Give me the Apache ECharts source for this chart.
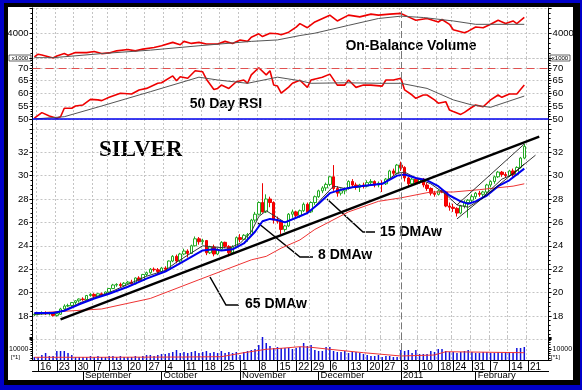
<!DOCTYPE html>
<html><head><meta charset="utf-8">
<script src="https://cdn.jsdelivr.net/npm/echarts/dist/echarts.min.js"></script>
<style>
html,body{margin:0;padding:0;background:#fff;}
#blue{position:absolute;left:0;top:0;width:582px;height:390px;background:#0000c8;}
#black{position:absolute;left:4px;top:3px;width:576px;height:382px;background:#000;}
#white{position:absolute;left:8px;top:7px;width:565px;height:373px;background:#fff;}
#chart{position:absolute;left:0;top:0;width:582px;height:390px;}
</style></head><body>
<div id="blue"></div><div id="black"></div><div id="white"></div>
<div id="chart"></div>
<script>
// ---------- categories (trading days) ----------
const monthDays = [
  ['2010-08',[13,16,17,18,19,20,23,24,25,26,27,30,31]],
  ['2010-09',[1,2,3,7,8,9,10,13,14,15,16,17,20,21,22,23,24,27,28,29,30]],
  ['2010-10',[1,4,5,6,7,8,11,12,13,14,15,18,19,20,21,22,25,26,27,28,29]],
  ['2010-11',[1,2,3,4,5,8,9,10,11,12,15,16,17,18,19,22,23,24,26,29,30]],
  ['2010-12',[1,2,3,6,7,8,9,10,13,14,15,16,17,20,21,22,23,27,28,29,30,31]],
  ['2011-01',[3,4,5,6,7,10,11,12,13,14,18,19,20,21,24,25,26,27,28,31]],
  ['2011-02',[1,2,3,4,7,8,9,10,11,14,15,16,17,18,21,22,23,24,25,28]]
];
const tradingDays = [];
monthDays.forEach(([ym, ds]) => ds.forEach(d => tradingDays.push(ym + '-' + String(d).padStart(2,'0'))));

const weekLabels = ['2010-08-16','2010-08-23','2010-08-30','2010-09-07','2010-09-13','2010-09-20','2010-09-27',
  '2010-10-04','2010-10-11','2010-10-18','2010-10-25','2010-11-01','2010-11-08','2010-11-15','2010-11-22',
  '2010-11-29','2010-12-06','2010-12-13','2010-12-20','2010-12-27','2011-01-03','2011-01-10','2011-01-18',
  '2011-01-24','2011-01-31','2011-02-07','2011-02-14','2011-02-21'];
const monthLabels = {'2010-09-01':'September','2010-10-01':'October','2010-11-01':'November',
  '2010-12-01':'December','2011-01-03':'2011','2011-02-01':'February'};

// ---------- price data (Aug 13 2010 .. Feb 18 2011) ----------
const opens = [
 18.10,18.15,18.20,18.30,18.20,18.25,18.05,18.15,18.60,18.85,18.90,19.15,19.30,
 19.45,19.40,19.75,19.85,19.70,19.90,19.80,20.05,20.35,20.65,20.70,20.60,20.80,20.90,20.75,21.25,21.05,21.55,21.70,22.00,21.95,
 21.80,22.10,22.00,22.70,23.10,22.70,23.30,23.55,23.35,24.00,24.60,24.35,24.45,23.40,23.90,23.30,23.70,24.30,23.95,23.40,23.90,
 24.70,24.55,24.90,24.95,26.20,26.70,27.70,26.90,28.00,27.70,26.20,26.10,25.40,25.70,26.70,26.90,26.60,27.00,27.55,26.90,27.70,
 28.20,28.70,28.95,29.25,29.90,28.90,28.50,28.70,28.90,29.50,29.20,29.00,29.20,29.10,29.40,29.50,29.20,29.35,29.30,29.70,30.40,30.20,
 30.90,30.70,29.80,29.30,29.70,29.40,29.70,29.20,28.90,28.50,28.40,28.70,28.60,27.40,27.30,27.20,26.80,27.40,27.70,27.90,
 28.20,28.50,28.40,28.60,29.20,29.50,29.90,30.30,30.10,30.00,30.40,30.10,30.70,31.50];
const highs = [
 18.25,18.35,18.40,18.40,18.35,18.30,18.25,18.70,19.00,19.05,19.20,19.35,19.50,
 19.60,19.80,19.95,19.95,19.95,20.00,20.10,20.40,20.75,20.80,20.85,20.90,21.00,21.10,21.30,21.40,21.60,21.80,22.10,22.15,22.10,
 22.20,22.25,22.75,23.20,23.25,23.40,23.75,23.70,24.10,24.80,24.75,24.60,24.50,24.00,24.10,23.80,24.40,24.35,24.05,24.05,24.80,
 25.00,25.00,25.10,26.30,26.90,27.80,29.35,28.40,28.20,27.80,26.50,26.20,25.80,26.80,27.10,27.00,27.10,27.70,27.70,27.80,28.30,
 28.80,29.10,29.40,29.95,30.90,29.10,28.90,29.00,29.60,29.70,29.40,29.30,29.40,29.60,29.70,29.60,29.50,29.60,29.80,30.50,30.60,31.00,
 31.20,30.80,29.90,29.80,29.80,29.80,29.80,29.40,29.00,28.70,28.80,28.90,28.70,27.70,27.60,27.30,27.50,27.90,28.00,28.40,
 28.60,28.70,28.70,29.30,29.60,30.00,30.40,30.40,30.30,30.50,30.60,30.80,31.60,32.70];
const lows = [
 18.00,18.05,18.10,18.10,18.05,17.95,17.95,18.10,18.45,18.75,18.80,19.00,19.15,
 19.30,19.35,19.65,19.60,19.65,19.70,19.75,20.00,20.30,20.50,20.45,20.50,20.70,20.65,20.70,20.95,21.00,21.40,21.60,21.80,21.55,
 21.75,21.85,21.95,22.60,22.50,22.55,23.20,23.00,23.30,23.95,24.10,24.10,23.20,23.30,23.10,23.20,23.65,23.80,23.10,23.35,23.80,
 24.30,24.50,24.35,24.90,26.00,26.60,26.85,26.80,27.30,25.90,25.90,25.00,25.20,25.60,26.40,26.30,26.40,26.90,26.70,26.80,27.50,
 28.10,28.50,28.70,29.10,28.70,28.20,28.30,28.40,28.80,29.00,28.80,28.60,28.90,29.00,29.20,29.00,29.00,28.60,29.20,29.60,30.00,30.10,
 30.40,29.50,29.00,29.20,29.20,29.30,29.00,28.70,28.30,28.20,28.30,28.50,27.30,27.00,26.90,26.50,26.70,27.20,26.40,27.70,
 28.00,28.20,28.00,28.50,29.00,29.30,29.80,29.90,29.80,29.90,29.90,30.00,30.60,31.40];
const closes = [
 18.15,18.20,18.30,18.20,18.25,18.05,18.20,18.60,18.85,18.90,19.15,19.30,19.45,
 19.40,19.75,19.85,19.70,19.90,19.80,20.05,20.35,20.65,20.70,20.60,20.80,20.90,20.75,21.25,21.05,21.55,21.70,22.00,21.95,21.80,
 22.10,22.00,22.70,23.10,22.70,23.30,23.55,23.35,24.00,24.60,24.35,24.45,23.40,23.90,23.30,23.70,24.30,23.95,23.40,23.90,24.70,
 24.55,24.90,24.95,26.20,26.70,27.70,26.90,28.00,27.70,26.20,26.10,25.40,25.70,26.70,26.90,26.60,27.00,27.55,26.90,27.70,28.20,
 28.70,28.95,29.25,29.90,28.90,28.50,28.70,28.90,29.50,29.20,29.00,29.20,29.10,29.40,29.50,29.20,29.35,29.30,29.70,30.40,30.20,30.90,
 30.70,29.80,29.30,29.70,29.40,29.70,29.20,28.90,28.50,28.40,28.70,28.60,27.40,27.30,27.20,26.80,27.40,27.70,27.90,28.20,
 28.50,28.40,28.60,29.20,29.50,29.90,30.30,30.10,30.00,30.40,30.10,30.70,31.50,32.50];

// moving averages: [trading-day index, value]
const ma8Blue = [[0,18.25],[5,18.25],[8,18.45],[12,19.0],[16,19.5],[20,19.9],[25,20.5],[30,21.2],[35,21.8],[40,22.7],
 [45,23.6],[48,23.7],[50,23.6],[53,23.7],[56,24.2],[59,25.2],[61,26.1],[63,26.3],[65,26.2],[67,26.0],[70,26.4],[73,26.8],
 [76,27.6],[79,28.5],[82,28.8],[85,29.0],[90,29.2],[93,29.3],[97,30.0],[99,30.1],[102,29.8],[105,29.6],[108,29.1],
 [111,28.3],[114,27.8],[116,27.6],[118,27.8],[121,28.3],[124,29.1],[127,29.6],[131,30.6]];
const ma15Black = [[0,18.15],[5,18.2],[8,18.5],[12,19.1],[16,19.6],[20,20.0],[25,20.7],[30,21.4],[35,21.9],[38,22.6],
 [42,23.4],[45,24.0],[48,23.9],[52,23.8],[55,24.2],[58,25.2],[60,26.5],[62,27.0],[64,26.6],[67,26.0],[70,26.4],[74,27.0],
 [77,28.1],[80,29.1],[83,28.9],[88,29.1],[93,29.3],[97,30.2],[99,30.3],[102,29.8],[106,29.3],[110,28.4],[113,27.5],
 [116,27.3],[119,27.9],[122,28.8],[125,29.7],[128,30.1],[131,31.0]];
const ma65Red = [[0,18.25],[18,18.6],[31,19.5],[44,21.1],[58,22.8],[62,23.1],[66,23.8],[71,24.5],[75,25.4],[84,26.9],
 [92,27.8],[98,28.1],[106,28.6],[112,28.6],[119,28.8],[128,29.1],[131,29.3]];

// ---------- indicators ----------
const obv = [[0,3041],[1,3151],[2,3122],[5,3000],[6,3082],[8,3176],[9,3110],[11,3216],[14,3216],[16,3257],[18,3176],
 [20,3204],[22,3286],[25,3339],[27,3286],[29,3355],[32,3420],[34,3490],[37,3625],[39,3531],[40,3665],[42,3584],[44,3625],
 [46,3559],[49,3559],[51,3665],[53,3584],[55,3723],[57,3665],[58,3829],[60,3967],[61,3857],[63,3992],[65,3967],[66,3927],
 [68,4033],[70,4237],[71,4376],[73,4212],[75,4441],[79,4714],[81,4482],[84,4714],[87,4645],[90,4755],[92,4714],[95,4755],
 [98,4784],[100,4645],[102,4510],[105,4580],[108,4441],[109,4539],[111,4347],[112,4131],[115,4008],[116,4074],[118,4237],
 [120,4212],[122,4347],[124,4510],[126,4376],[128,4482],[129,4376],[131,4621]];
const obvAvg = [[0,3012],[5,3012],[18,3176],[31,3314],[44,3490],[58,3665],[65,3723],[71,3898],[75,3992],[84,4306],
 [92,4580],[98,4674],[104,4620],[112,4482],[118,4347],[131,4347]];
const rsi = [[0,50.3],[2,52.5],[4,51.2],[6,50.3],[7,50.9],[8,54.2],[10,54.2],[11,55.1],[13,55.5],[15,57.7],[17,57.5],
 [18,57.2],[20,58.5],[23,60.1],[26,59.8],[28,61.4],[30,62.0],[33,64.0],[34,64.2],[37,66.9],[38,65.0],[39,66.6],[41,66.0],
 [43,68.9],[45,68.5],[46,65.6],[48,61.6],[49,62.0],[50,63.3],[52,62.0],[54,64.6],[56,65.3],[57,64.0],[58,67.3],[60,70.1],
 [62,67.3],[63,68.9],[64,63.3],[65,62.9],[66,60.1],[68,62.5],[69,64.0],[71,65.2],[73,62.4],[74,65.3],[77,66.4],[79,67.6],
 [81,63.3],[83,63.3],[84,65.3],[86,62.4],[88,63.3],[90,63.3],[93,62.9],[94,65.3],[96,65.3],[98,66.0],[99,61.4],[101,59.4],
 [102,58.1],[104,59.4],[105,59.4],[107,57.5],[108,56.2],[110,56.8],[111,53.5],[112,52.9],[114,51.8],[115,52.6],[117,54.6],
 [118,55.5],[120,54.8],[122,57.5],[124,59.4],[125,58.5],[127,59.8],[129,59.8],[131,63.3]];
const rsiAvg = [[0,50.0],[8,50.9],[18,55.1],[31,60.7],[44,66.4],[49,65.3],[57,64.0],[65,66.4],[71,65.0],[74,64.0],
 [83,64.2],[93,64.0],[98,64.0],[105,62.0],[112,57.5],[117,55.5],[122,54.6],[131,59.0]];
const volume = [6360,6360,7270,8180,6820,6820,9090,9090,9090,8180,7270,6360,6360,
 6360,6360,6820,6360,6820,6360,6360,6820,6820,6360,6820,6360,6360,6360,6820,6360,6820,
 7270,7270,6820,7270,7730,7730,8180,8640,9550,
 8180,8640,8180,8640,9090,8180,8640,9090,8180,8640,8180,9090,8180,8640,8180,8640,
 7270,8640,9090,9550,10000,11820,15450,12730,11360,10450,10910,10450,10450,10450,10000,
 10450,10910,12730,11360,11820,9550,9090,9090,
 10910,10910,9090,8640,8640,9090,8180,8640,8640,8180,7730,
 7270,6820,6820,7270,6360,6820,6820,6360,6360,
 9550,9090,9550,8180,9550,7730,7730,7730,9090,8640,
 10000,10000,9090,8640,8640,8180,8640,9090,9550,
 8640,8180,8180,8640,8640,8180,8180,8640,8180,8640,8180,8180,10450,10450,10910];
const volumeAvg = [[0,6230],[18,6230],[40,6360],[50,6500],[56,8320],[62,9860],[66,10320],[71,11040],[74,10770],
 [79,9860],[88,8320],[98,6820],[107,7270],[110,8770],[131,8320]];

// ---------- chart ----------
const L = 32.5, W = 516.1;
const font = 'Liberation Sans, Arial, sans-serif';
const chart = echarts.init(document.getElementById('chart'), null, {renderer:'canvas'});
const grids = [
  {left:L, width:W, top:8, height:50},
  {left:L, width:W, top:58, height:61},
  {left:L, width:W, top:119, height:220.4},
  {left:L, width:W, top:337, height:23}
];
const isWeek = (i, v) => weekLabels.indexOf(v) >= 0;
const gridSplit = {show:true, interval:isWeek, lineStyle:{color:'#c4c4c4', type:[2,2], width:1}};
const xAxes = grids.map((g, i) => ({
  type:'category', gridIndex:i, data:tradingDays, boundaryGap:true,
  axisLine:{show: i===3, lineStyle:{color:'#000'}},
  axisTick:{show: i===3, interval:isWeek, alignWithLabel:true, length:11, lineStyle:{color:'#000'}},
  axisLabel:{show: i===3, interval:isWeek, align:'left', margin:2, fontSize:10, color:'#000', fontFamily:font,
    padding:[0,0,0,2], formatter: v => String(+v.slice(8))},
  splitLine: gridSplit
}));
xAxes.push({
  type:'category', gridIndex:3, data:tradingDays, boundaryGap:true, position:'bottom', offset:11,
  axisLine:{show:true, lineStyle:{color:'#000'}},
  axisTick:{show:true, interval:(i,v)=>monthLabels[v]!==undefined, alignWithLabel:true, length:9, lineStyle:{color:'#000'}},
  axisLabel:{show:true, interval:(i,v)=>monthLabels[v]!==undefined, align:'left', margin:-1, fontSize:9.5, color:'#000',
    fontFamily:font, padding:[0,0,0,2], formatter: v => monthLabels[v] || ''},
  splitLine:{show:false}
});
function yPair(gi, min, max, interval, fmt, fs, split) {
  const base = {type:'value', gridIndex:gi, min:min, max:max, interval:interval,
    axisLine:{show:true, lineStyle:{color:'#000'}},
    axisTick:{show:true, length:3, lineStyle:{color:'#000'}},
    minorTick:{show:true, splitNumber:5, length:2, lineStyle:{color:'#000'}},
    axisLabel:{margin:4, fontSize:fs, color:'#000', fontFamily:font, formatter:fmt},
  };
  return [Object.assign({}, base, {position:'left', splitLine: split}),
          Object.assign({}, base, {position:'right', splitLine:{show:false}})];
}
const hSplit = {show:true, lineStyle:{color:'#c4c4c4', type:[2,2]}};
const yAxes = [].concat(
  yPair(0, 3000, 5000, 1000, v => v===4000 ? '4000' : '', 9.5, hSplit),
  yPair(1, 50, 73.92, 5, v => (v%5===0 && v<=70) ? String(v) : '', 9.5, hSplit),
  yPair(2, 16, 34.84, 2, v => (v>=18 && v<=32) ? String(v) : '', 9.5, hSplit),
  yPair(3, 5000, 15454, 5000, v => v===10000 ? '10000' : '', 7, {show:false})
);
const jan3 = {xAxis:'2011-01-03', lineStyle:{color:'#777', type:[7,3], width:1}};
const noSym = ['none','none'];
const line = (gi, data, color, width, extra) => Object.assign({type:'line', xAxisIndex:gi, yAxisIndex:gi*2,
  data:data, symbol:'none', silent:true, animation:false, lineStyle:{color:color, width:width}}, extra||{});

const candleData = closes.map((c,i) => [opens[i], c, lows[i], highs[i]]);
const cat = i => tradingDays[i];

const option = {
  backgroundColor:'transparent',
  animation:false,
  grid: grids,
  xAxis: xAxes,
  yAxis: yAxes,
  series: [
    line(0, obv, '#ee0000', 1.6, {markLine:{symbol:noSym, silent:true, label:{show:false}, data:[jan3]}}),
    line(0, obvAvg, '#555', 1),
    line(1, rsi, '#ee0000', 1.6, {markLine:{symbol:noSym, silent:true, label:{show:false}, data:[
      jan3,
      {yAxis:70, lineStyle:{color:'#e05050', type:[8,5], width:1}},
      {yAxis:50, lineStyle:{color:'#0000ee', type:'solid', width:1.6}}
    ]}}),
    line(1, rsiAvg, '#555', 1),
    {type:'candlestick', xAxisIndex:2, yAxisIndex:4, data:candleData, barWidth:3, silent:true, animation:false,
     itemStyle:{color:'#ffffff', color0:'#ff0000', borderColor:'#22aa22', borderColor0:'#ee0000', borderWidth:1},
     markLine:{symbol:noSym, silent:true, label:{show:false}, data:[
       jan3,
       [{coord:[cat(7),17.72], lineStyle:{color:'#000', width:2.4, type:'solid'}}, {coord:[cat(135),33.33]}],
       [{coord:[cat(113),26.3], lineStyle:{color:'#000', width:0.8, type:'solid'}}, {coord:[cat(134),31.75]}],
       [{coord:[cat(113),27.5], lineStyle:{color:'#000', width:0.8, type:'solid'}}, {coord:[cat(131),32.7]}]
     ]}},
    line(2, ma65Red, '#ee3333', 1),
    line(2, ma15Black, '#333', 1),
    line(2, ma8Blue, '#0000ee', 2),
    {type:'bar', xAxisIndex:3, yAxisIndex:6, data:volume, barWidth:1.5, silent:true, animation:false,
     itemStyle:{color:'#1010dd'}, markLine:{symbol:noSym, silent:true, label:{show:false}, data:[jan3]}},
    line(3, volumeAvg, '#ee3333', 1)
  ],
  graphic: [
    {type:'text', x:411, y:46, style:{text:'On-Balance Volume', font:'bold 14px '+font, fill:'#000', align:'center', verticalAlign:'middle'}},
    {type:'text', x:226, y:104, style:{text:'50 Day RSI', font:'bold 14px '+font, fill:'#000', align:'center', verticalAlign:'middle'}},
    {type:'text', x:99, y:150, style:{text:'SILVER', font:'bold 23px Liberation Serif, Times New Roman, serif', fill:'#000', align:'left', verticalAlign:'middle'}},
    {type:'text', x:380, y:232, style:{text:'15 DMAw', font:'bold 14px '+font, fill:'#000', align:'left', verticalAlign:'middle'}},
    {type:'text', x:318, y:255, style:{text:'8 DMAw', font:'bold 14px '+font, fill:'#000', align:'left', verticalAlign:'middle'}},
    {type:'text', x:245, y:304, style:{text:'65 DMAw', font:'bold 14px '+font, fill:'#000', align:'left', verticalAlign:'middle'}},
    {type:'polyline', shape:{points:[[327,199],[363,232],[375,232]]}, style:{stroke:'#000', lineWidth:1.5, fill:'none'}},
    {type:'polyline', shape:{points:[[258,223],[300,257],[313,257]]}, style:{stroke:'#000', lineWidth:1.5, fill:'none'}},
    {type:'polyline', shape:{points:[[210,277],[226,305],[239,305]]}, style:{stroke:'#000', lineWidth:1.5, fill:'none'}},
    {type:'rect', shape:{x:9, y:55, width:22, height:6}, style:{stroke:'#000', lineWidth:0.6, fill:'#fff'}},
    {type:'text', x:20, y:58, style:{text:'x1000', font:'6px '+font, fill:'#000', align:'center', verticalAlign:'middle'}},
    {type:'rect', shape:{x:550, y:55, width:20, height:6}, style:{stroke:'#000', lineWidth:0.6, fill:'#fff'}},
    {type:'text', x:560, y:58, style:{text:'x1000', font:'6px '+font, fill:'#000', align:'center', verticalAlign:'middle'}},
    {type:'text', x:11, y:357, style:{text:'[*1]', font:'6px '+font, fill:'#000', align:'left', verticalAlign:'middle'}},
    {type:'text', x:551, y:357, style:{text:'[*1]', font:'6px '+font, fill:'#000', align:'left', verticalAlign:'middle'}}
  ]
};
chart.setOption(option);
</script></body></html>
